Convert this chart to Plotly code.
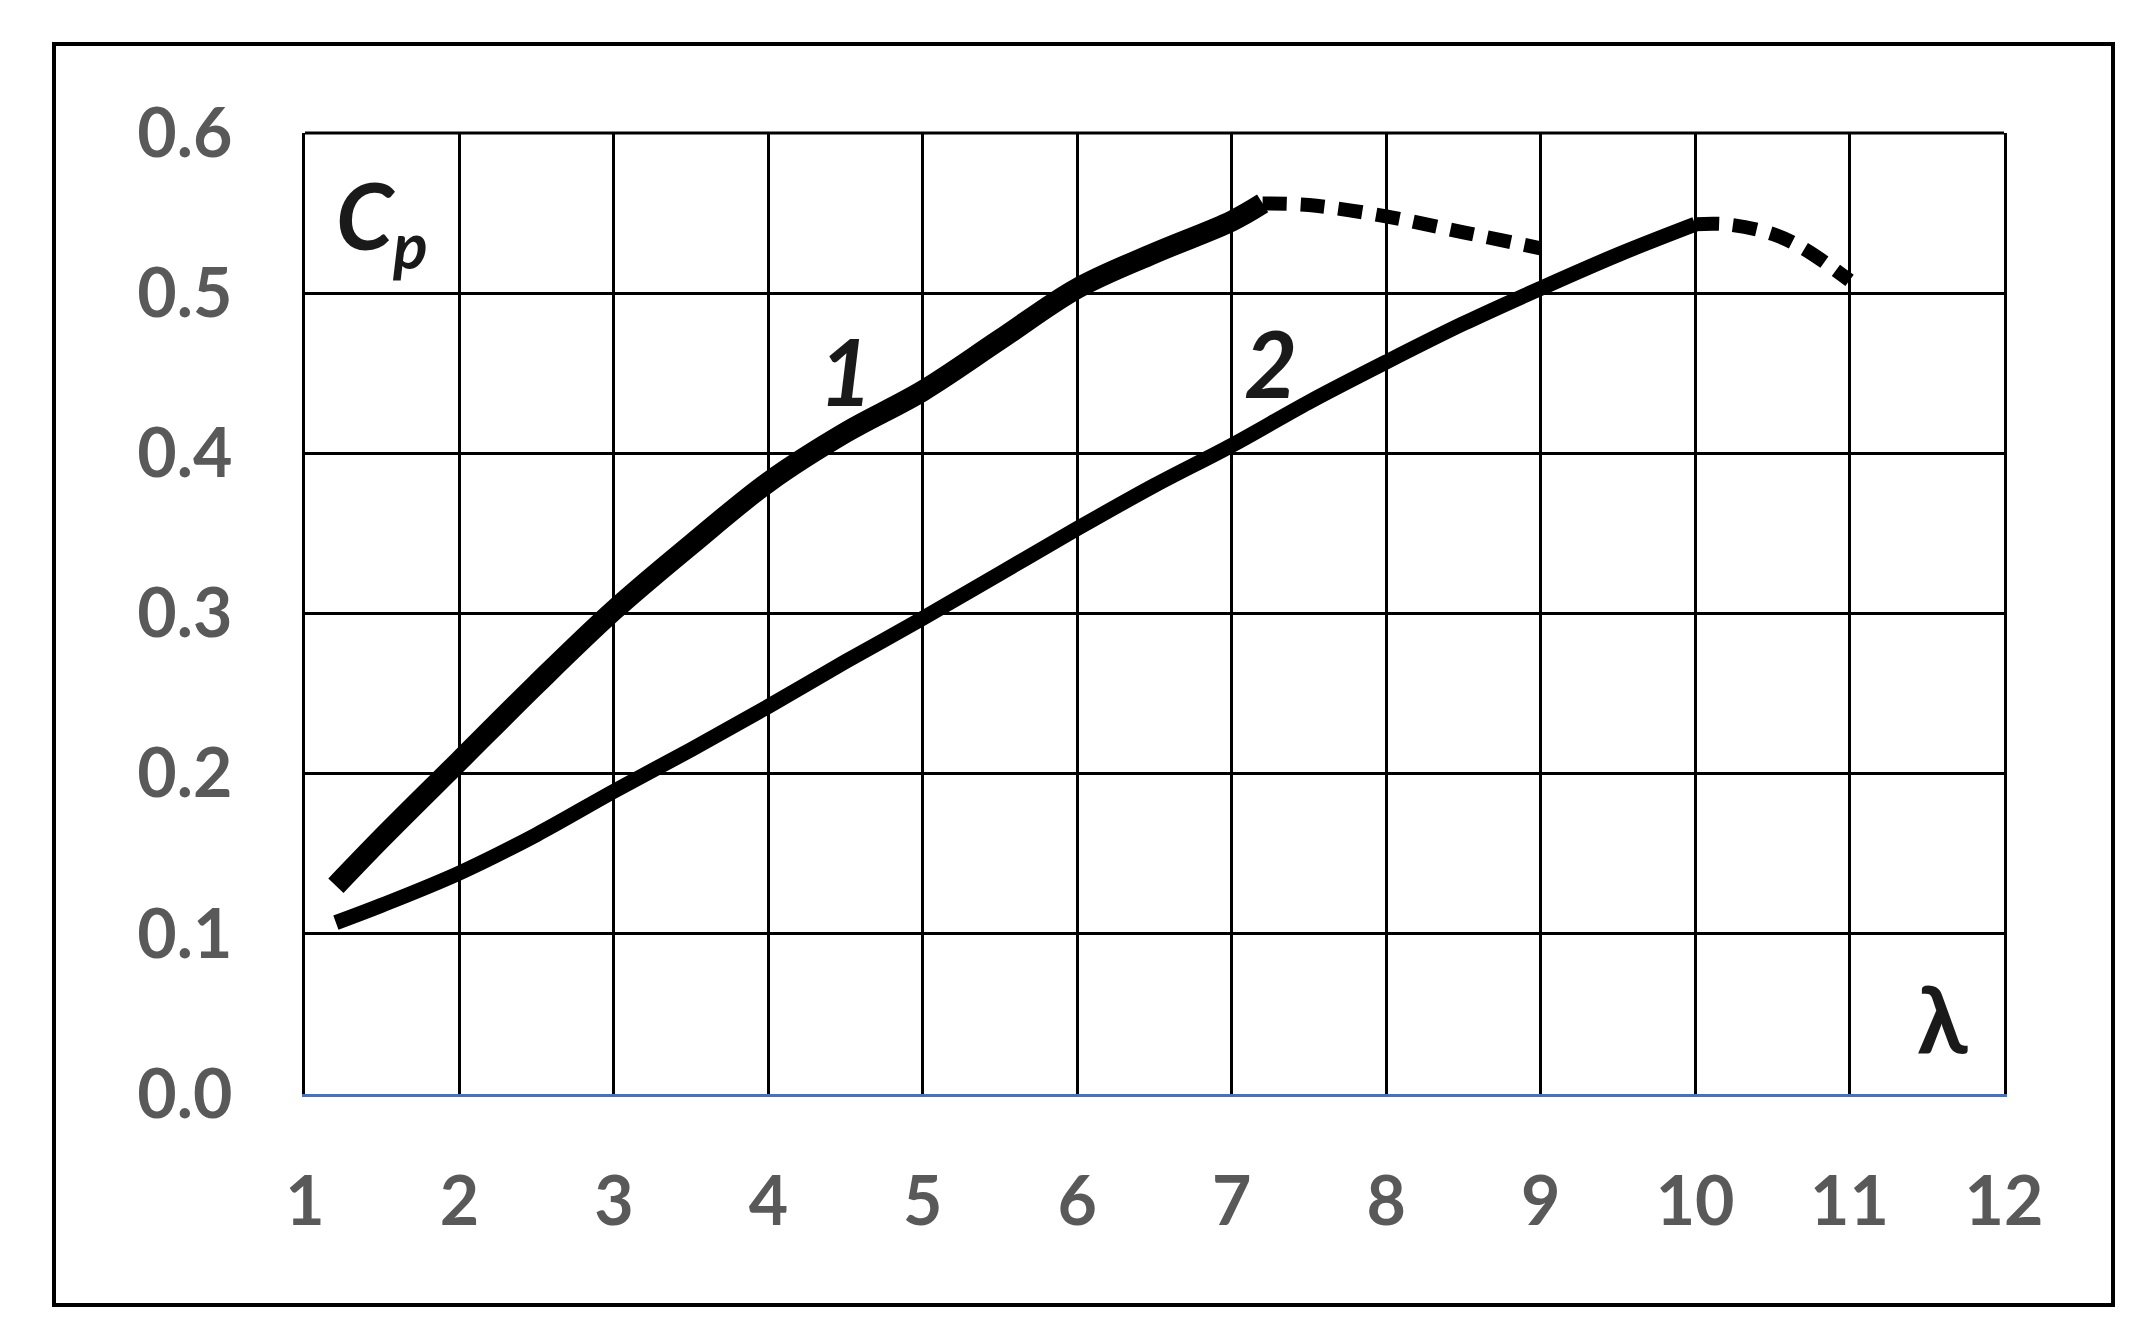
import plotly.graph_objects as go

# Curve 1 (solid part and dashed continuation)
lam1 = [1.2, 1.5, 2, 2.5, 3, 3.5, 4, 4.5, 5, 5.5, 6, 6.5, 7, 7.2]
cp1 = [0.130, 0.160, 0.208, 0.256, 0.302, 0.343, 0.382, 0.413, 0.439, 0.471, 0.503, 0.525, 0.545, 0.556]
lam1_d = [7.2, 7.5, 8.0, 8.5, 9.0]
cp1_d = [0.556, 0.555, 0.548, 0.538, 0.528]

# Curve 2 (solid part and dashed continuation)
lam2 = [1.2, 1.5, 2, 2.5, 3, 3.5, 4, 4.5, 5, 5.5, 6, 6.5, 7, 7.5, 8, 8.5, 9, 9.5, 10]
cp2 = [0.107, 0.118, 0.138, 0.162, 0.189, 0.215, 0.242, 0.270, 0.297, 0.325, 0.353, 0.380,
       0.405, 0.432, 0.457, 0.481, 0.503, 0.524, 0.543]
lam2_d = [10.0, 10.2, 10.5, 10.7, 11.0]
cp2_d = [0.543, 0.543, 0.537, 0.528, 0.508]

x_ticks = [1, 2, 3, 4, 5, 6, 7, 8, 9, 10, 11, 12]
y_ticks = [0.0, 0.1, 0.2, 0.3, 0.4, 0.5, 0.6]

OFF = 8  # page body margin
W, H = 2128, 1326
L, R, T, B = 305 - OFF, 2144 - 2004 - OFF, 133 - OFF, 1342 - 1094 - OFF
pw, ph = W - L - R, H - T - B

fig = go.Figure()
fig.add_trace(go.Scatter(x=lam1, y=cp1, mode="lines",
                         line=dict(color="black", width=21, shape="spline", smoothing=1.0)))
fig.add_trace(go.Scatter(x=lam1_d, y=cp1_d, mode="lines",
                         line=dict(color="black", width=14, dash="24px,14px", shape="spline")))
fig.add_trace(go.Scatter(x=lam2, y=cp2, mode="lines",
                         line=dict(color="black", width=15, shape="spline", smoothing=1.0)))
fig.add_trace(go.Scatter(x=lam2_d, y=cp2_d, mode="lines",
                         line=dict(color="black", width=14, dash="24px,14px", shape="spline")))

tickfont = dict(family="Lato", size=68, color="#595959", weight="bold")
fig.update_xaxes(range=[1, 12], tickvals=x_ticks, ticktext=[str(v) for v in x_ticks],
                 showgrid=True, gridcolor="black", gridwidth=3, zeroline=False,
                 showline=True, linecolor="#4472C4", linewidth=3,
                 tickfont=tickfont, ticks="", ticklabelstandoff=46)
fig.update_yaxes(range=[0, 0.6], tickvals=y_ticks, ticktext=[f"{v:.1f}" for v in y_ticks],
                 showgrid=True, gridcolor="black", gridwidth=3, zeroline=False,
                 showline=True, linecolor="black", linewidth=3, mirror=True,
                 tickfont=tickfont, ticks="", ticklabelstandoff=56)

shapes = [
    dict(type="line", xref="paper", yref="paper", x0=0, x1=1, y0=1, y1=1,
         line=dict(color="black", width=3)),
    dict(type="rect", xref="paper", yref="paper",
         x0=(54 - OFF - L) / pw, x1=(2113 - OFF - L) / pw,
         y0=(T + ph - (1305 - OFF)) / ph, y1=(T + ph - (44 - OFF)) / ph,
         line=dict(color="black", width=4)),
]

lbl = dict(family="Lato", size=92, color="#1a1a1a")
annotations = [
    dict(x=4.5, y=0.452, xref="x", yref="y", text="<b><i>1</i></b>", showarrow=False, font=lbl),
    dict(x=7.25, y=0.457, xref="x", yref="y", text="<b><i>2</i></b>", showarrow=False, font=lbl),
    dict(x=1.5, y=0.545, xref="x", yref="y",
         text="<b><i>C<sub>p</sub></i></b>", showarrow=False, font=lbl),
    dict(x=11.6, y=0.048, xref="x", yref="y", text="<b>λ</b>", showarrow=False, font=lbl),
]

fig.update_layout(width=W, height=H, margin=dict(l=L, r=R, t=T, b=B),
                  paper_bgcolor="white", plot_bgcolor="white", showlegend=False,
                  shapes=shapes, annotations=annotations)

fig.write_html("out.html")
